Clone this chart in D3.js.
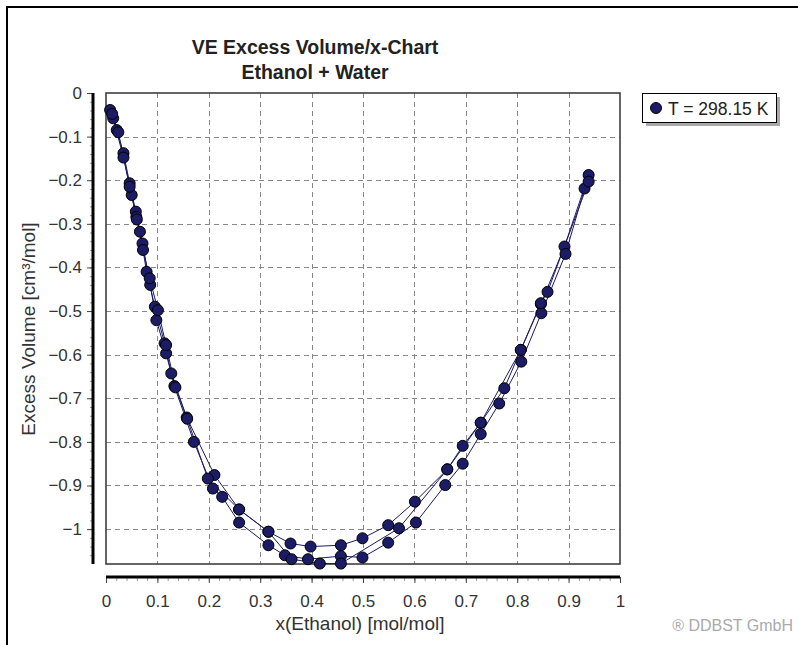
<!DOCTYPE html>
<html>
<head>
<meta charset="utf-8">
<script src="https://cdn.jsdelivr.net/npm/d3@7"></script>
<style>
  body { margin: 0; background: #fff; }
  text { font-family: Arial, "Liberation Sans", sans-serif; }
</style>
</head>
<body>
<svg id="chart"></svg>
<script>
// data: [x(Ethanol), excess volume]
var seriesA = [[0.008,-0.039],[0.021,-0.085],[0.034,-0.138],[0.046,-0.207],[0.058,-0.272],[0.066,-0.318],
  [0.079,-0.41],[0.095,-0.49],[0.114,-0.574],[0.127,-0.643],[0.157,-0.744],[0.211,-0.876],[0.259,-0.955],
  [0.316,-1.006],[0.359,-1.033],[0.398,-1.04],[0.457,-1.037],[0.499,-1.021],[0.549,-0.991],[0.601,-0.937],
  [0.664,-0.863],[0.694,-0.809],[0.729,-0.756],[0.775,-0.677],[0.807,-0.589],[0.846,-0.484],[0.892,-0.352],[0.939,-0.188]];
var seriesB = [[0.014,-0.058],[0.034,-0.148],[0.05,-0.234],[0.059,-0.284],[0.071,-0.345],[0.086,-0.44],
  [0.098,-0.521],[0.117,-0.597],[0.133,-0.672],[0.171,-0.80],[0.208,-0.907],[0.226,-0.926],[0.259,-0.985],
  [0.316,-1.037],[0.348,-1.06],[0.393,-1.069],[0.457,-1.062],[0.499,-1.065],[0.549,-1.031],[0.603,-0.985],
  [0.66,-0.899],[0.694,-0.85],[0.729,-0.782],[0.765,-0.712],[0.808,-0.616],[0.847,-0.505],[0.894,-0.369],[0.931,-0.219]];
var seriesC = [[0.012,-0.048],[0.024,-0.09],[0.046,-0.215],[0.06,-0.29],[0.072,-0.36],[0.085,-0.425],
  [0.101,-0.498],[0.117,-0.578],[0.135,-0.675],[0.158,-0.747],[0.198,-0.884],[0.259,-0.955],[0.316,-1.006],
  [0.361,-1.069],[0.416,-1.079],[0.457,-1.079],[0.57,-0.998],[0.664,-0.863],[0.729,-0.756],
  [0.807,-0.589],[0.846,-0.482],[0.859,-0.456],[0.939,-0.203]];
var allSeries = [seriesA, seriesB, seriesC];

var xTicks = [0,0.1,0.2,0.3,0.4,0.5,0.6,0.7,0.8,0.9,1];
var yTicks = [0,-0.1,-0.2,-0.3,-0.4,-0.5,-0.6,-0.7,-0.8,-0.9,-1];
var titleLines = ["VE Excess Volume/x-Chart", "Ethanol + Water"];
var legendLabel = "T = 298.15 K";

var svgWidth = 798, svgHeight = 645;
var svg = d3.select("#chart").attr("width", svgWidth).attr("height", svgHeight);

var plotLeft = 106, plotRight = 620, plotTop = 93, plotBottom = 564;
var dotColor = "#1b1b66";
var fontFam = "Arial, 'Liberation Sans', sans-serif";

var x = d3.scaleLinear().domain([0, 1]).range([plotLeft, plotRight]);
var y = d3.scaleLinear().domain([0, -1.08]).range([plotTop, plotBottom]);

// outer frame
svg.append("rect").attr("x", 7).attr("y", 7).attr("width", 820).attr("height", 700)
   .attr("fill", "none").attr("stroke", "#000").attr("stroke-width", 2);

// title
svg.selectAll(".title").data(titleLines).enter().append("text")
   .attr("x", 315).attr("y", function(d, i){ return 54 + i * 25; })
   .attr("text-anchor", "middle").attr("font-size", 19.5).attr("font-weight", "bold")
   .attr("fill", "#222").text(function(d){ return d; });

// grid
var grid = svg.append("g").attr("stroke", "#888").attr("stroke-dasharray", "5,4").attr("stroke-width", 1);
grid.selectAll(".gx").data(xTicks.slice(1, -1)).enter().append("line")
    .attr("x1", function(d){ return Math.round(x(d)) + 0.5; }).attr("x2", function(d){ return Math.round(x(d)) + 0.5; })
    .attr("y1", plotTop).attr("y2", plotBottom);
grid.selectAll(".gy").data(yTicks.slice(1)).enter().append("line")
    .attr("y1", function(d){ return Math.round(y(d)) + 0.5; }).attr("y2", function(d){ return Math.round(y(d)) + 0.5; })
    .attr("x1", plotLeft).attr("x2", plotRight);

// plot border
svg.append("rect").attr("x", plotLeft).attr("y", plotTop)
   .attr("width", plotRight - plotLeft).attr("height", plotBottom - plotTop)
   .attr("fill", "none").attr("stroke", "#333").attr("stroke-width", 1.5);

// y axis (detached, left of plot)
var yAxisX = 93;
var yMinor = d3.range(0, 54).map(function(i){ return -i * 0.02; });
svg.append("g").attr("transform", "translate(" + yAxisX + ",0)")
   .call(d3.axisLeft(y).tickValues(yMinor).tickSize(3).tickFormat(""))
   .call(function(g){ g.select(".domain").remove(); g.selectAll("line").attr("stroke", "#999"); });
var yMajor = svg.append("g").attr("transform", "translate(" + yAxisX + ",0)")
   .call(d3.axisLeft(y).tickValues(yTicks).tickSize(6).tickPadding(5).tickFormat(d3.format("")));
yMajor.select(".domain").remove();
yMajor.selectAll("text").attr("font-size", 17).attr("fill", "#333").style("font-family", fontFam);
yMajor.selectAll("line").attr("stroke", "#444");
svg.append("line").attr("x1", yAxisX).attr("x2", yAxisX).attr("y1", plotTop).attr("y2", plotBottom)
   .attr("stroke", "#000").attr("stroke-width", 3);

// x axis (detached, below plot)
var xAxisY = 577;
var xMinor = d3.range(0, 51).map(function(i){ return i * 0.02; });
svg.append("g").attr("transform", "translate(0," + xAxisY + ")")
   .call(d3.axisBottom(x).tickValues(xMinor).tickSize(4).tickFormat(""))
   .call(function(g){ g.select(".domain").remove(); g.selectAll("line").attr("stroke", "#999"); });
var xMajor = svg.append("g").attr("transform", "translate(0," + xAxisY + ")")
   .call(d3.axisBottom(x).tickValues(xTicks).tickSize(6).tickPadding(12).tickFormat(d3.format("")));
xMajor.select(".domain").remove();
xMajor.selectAll("text").attr("font-size", 17).attr("fill", "#333").style("font-family", fontFam);
xMajor.selectAll("line").attr("stroke", "#444");
svg.append("line").attr("x1", plotLeft).attr("x2", plotRight).attr("y1", xAxisY).attr("y2", xAxisY)
   .attr("stroke", "#000").attr("stroke-width", 3);

// axis titles
svg.append("text").attr("x", 360).attr("y", 630).attr("text-anchor", "middle")
   .attr("font-size", 19).attr("fill", "#333").text("x(Ethanol) [mol/mol]");
svg.append("text").attr("transform", "translate(35,329) rotate(-90)").attr("text-anchor", "middle")
   .attr("font-size", 19).attr("fill", "#333").text("Excess Volume [cm³/mol]");

// series lines and points
var line = d3.line().x(function(d){ return x(d[0]); }).y(function(d){ return y(d[1]); });
svg.selectAll(".series").data(allSeries).enter().append("path")
   .attr("d", line).attr("fill", "none").attr("stroke", dotColor).attr("stroke-width", 1);

var marker = d3.symbol().type(d3.symbolCircle).size(95);
allSeries.forEach(function(s){
  svg.append("g").selectAll("path").data(s).enter().append("path")
     .attr("d", marker)
     .attr("transform", function(d){ return "translate(" + x(d[0]) + "," + y(d[1]) + ")"; })
     .attr("fill", dotColor).attr("stroke", "#000").attr("stroke-width", 1);
});

// legend
var lg = svg.append("g").attr("transform", "translate(642,93)");
lg.append("rect").attr("x", 4).attr("y", 4).attr("width", 134).attr("height", 29).attr("fill", "#aaa");
lg.append("rect").attr("x", 0.5).attr("y", 0.5).attr("width", 134).attr("height", 29)
  .attr("fill", "#fff").attr("stroke", "#000");
lg.append("path").attr("d", marker).attr("transform", "translate(14,15)")
  .attr("fill", dotColor).attr("stroke", "#000");
lg.append("text").attr("x", 26).attr("y", 21.5).attr("font-size", 17.5).attr("fill", "#222").text(legendLabel);

// copyright
svg.append("text").attr("x", 793).attr("y", 631).attr("text-anchor", "end")
   .attr("font-size", 16).attr("fill", "#aaa").text("® DDBST GmbH");
</script>
</body>
</html>
